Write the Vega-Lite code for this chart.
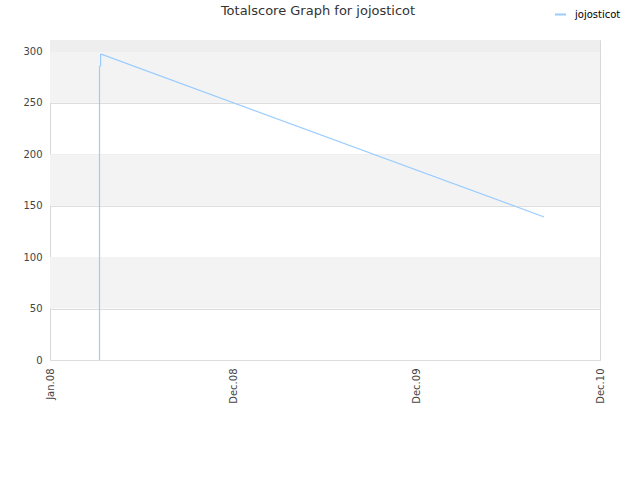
{
  "$schema": "https://vega.github.io/schema/vega-lite/v6.json",
  "width": 550,
  "height": 320,
  "autosize": "none",
  "padding": {"left": 50, "top": 40, "right": 40, "bottom": 120},
  "config": {
    "font": "DejaVu Sans",
    "view": {"stroke": "#d8d8d8", "strokeWidth": 1},
    "background": "white"
  },
  "title": {
    "text": "Totalscore Graph for jojosticot",
    "fontSize": 13,
    "fontWeight": "normal",
    "color": "#333333",
    "frame": "group",
    "offset": -10,
    "dx": -7
  },
  "layer": [
    {
      "data": {"values": [
        {"y0": 50, "y1": 100, "c": "a"},
        {"y0": 150, "y1": 200, "c": "a"},
        {"y0": 250, "y1": 300, "c": "a"},
        {"y0": 300, "y1": 311, "c": "b"}
      ]},
      "mark": {"type": "rect"},
      "encoding": {
        "y": {"field": "y0", "type": "quantitative", "scale": {"domain": [0, 311]}},
        "y2": {"field": "y1"},
        "x": {"datum": 0, "type": "quantitative"},
        "x2": {"datum": 3},
        "fill": {
          "field": "c", "type": "nominal",
          "scale": {"domain": ["a", "b"], "range": ["#f3f3f3", "#eeeeee"]},
          "legend": null
        }
      }
    },
    {
      "data": {"values": [
        {"x": 0.270, "score": 0, "name": "jojosticot"},
        {"x": 0.270, "score": 285, "name": "jojosticot"},
        {"x": 0.276, "score": 286, "name": "jojosticot"},
        {"x": 0.276, "score": 297, "name": "jojosticot"},
        {"x": 0.283, "score": 297, "name": "jojosticot"},
        {"x": 2.695, "score": 139, "name": "jojosticot"}
      ]},
      "mark": {"type": "line", "strokeWidth": 1.2, "interpolate": "linear"},
      "encoding": {
        "x": {
          "field": "x", "type": "quantitative",
          "scale": {"domain": [0, 3], "nice": false, "zero": false},
          "axis": {
            "values": [0, 1, 2, 3],
            "labelExpr": "['Jan.08','Dec.08','Dec.09','Dec.10'][datum.value]",
            "labelAngle": -90,
            "labelAlign": "right",
            "labelBaseline": "middle",
            "labelPadding": 8,
            "labelFontSize": 10,
            "labelColor": "#444444",
            "ticks": false,
            "grid": false,
            "domain": false,
            "title": null
          }
        },
        "y": {
          "field": "score", "type": "quantitative",
          "scale": {"domain": [0, 311], "nice": false},
          "axis": {
            "values": [0, 50, 100, 150, 200, 250, 300],
            "grid": true,
            "gridColor": "#dddddd",
            "ticks": false,
            "domain": false,
            "labelFontSize": 10,
            "labelColor": "#444444",
            "labelPadding": 8,
            "title": null
          }
        },
        "color": {
          "field": "name", "type": "nominal",
          "scale": {"range": ["#99ccff"]},
          "legend": {
            "title": null,
            "orient": "none",
            "legendX": 504,
            "legendY": -32,
            "symbolType": "stroke",
            "symbolStrokeWidth": 2,
            "symbolSize": 120,
            "labelOffset": 8,
            "labelFontSize": 10,
            "labelColor": "#000000"
          }
        }
      }
    }
  ]
}
